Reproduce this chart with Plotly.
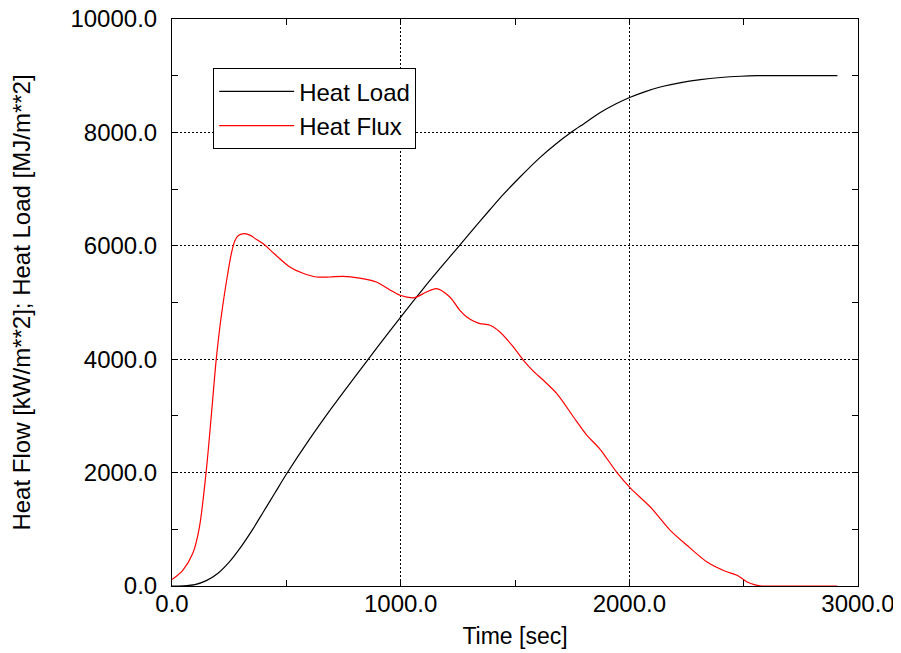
import plotly.graph_objects as go

# Heat load curve (black)
load_time = [0, 50, 100, 150, 200, 250, 300, 350, 400, 450, 500, 600, 700, 800,
             900, 1000, 1100, 1172, 1256, 1300, 1391, 1450, 1522, 1610, 1680,
             1749, 1800, 1873, 1940, 2004, 2070, 2135, 2220, 2311, 2400, 2486,
             2560, 2700, 2910]
load_vals = [0, 4, 25, 95, 220, 420, 680, 980, 1310, 1640, 1970, 2580, 3150, 3690,
             4220, 4744, 5250, 5600, 6000, 6210, 6640, 6910, 7213, 7560, 7800,
             8010, 8150, 8350, 8500, 8620, 8720, 8800, 8875, 8931, 8968, 8990,
             9000, 9000, 9000]

# Heat flux curve (red)
flux_time = [0, 47, 91, 120, 150, 175, 193, 215, 245, 260, 274, 290, 318, 345,
             370, 398, 450, 515, 570, 632, 690, 748, 820, 894, 950, 997, 1062,
             1110, 1157, 1215, 1259, 1289, 1320, 1347, 1391, 1434, 1490, 1537,
             1580, 1624, 1683, 1756, 1810, 1873, 1946, 2007, 2092, 2179, 2252,
             2340, 2420, 2471, 2515, 2550, 2580, 2700, 2910]
flux_vals = [113, 277, 577, 1040, 2040, 3150, 3980, 4744, 5538, 5870, 6080, 6180,
             6215, 6180, 6110, 6039, 5850, 5626, 5520, 5450, 5450, 5462, 5430,
             5362, 5230, 5127, 5086, 5180, 5245, 5097, 4861, 4744, 4670, 4628,
             4598, 4480, 4230, 3980, 3790, 3628, 3393, 2981, 2680, 2406, 2000,
             1718, 1393, 982, 718, 423, 260, 189, 71, 20, 0, 0, 0]

font = "Liberation Sans, Arial, sans-serif"

fig = go.Figure()
fig.add_trace(go.Scatter(x=load_time, y=load_vals, mode="lines", name="Heat Load",
                         line=dict(color="black", width=1.2, shape="spline", smoothing=0.8)))
fig.add_trace(go.Scatter(x=flux_time, y=flux_vals, mode="lines", name="Heat Flux",
                         line=dict(color="red", width=1.2, shape="spline", smoothing=0.8)))

axis_common = dict(
    showline=True, linecolor="black", linewidth=1, mirror="ticks",
    ticks="inside", ticklen=6, tickcolor="black", tickwidth=1,
    showgrid=True, gridcolor="black", gridwidth=1, griddash="2px,2px",
    zeroline=False, tickformat=".1f", automargin=False,
    ticklabeloverflow="allow",
    tickfont=dict(family=font, size=24, color="black"),
)

fig.update_xaxes(range=[0, 3000], dtick=1000,
                 minor=dict(dtick=500, ticks="inside", ticklen=6, tickcolor="black", showgrid=False),
                 title=dict(text="Time [sec]", font=dict(family=font, size=23, color="black"), standoff=12),
                 ticklabelstandoff=-4,
                 **axis_common)
fig.update_yaxes(range=[0, 10000], dtick=2000,
                 minor=dict(dtick=1000, ticks="inside", ticklen=6, tickcolor="black", showgrid=False),
                 title=dict(text="Heat Flow [kW/m**2]; Heat Load [MJ/m**2]",
                            font=dict(family=font, size=24, color="black"), standoff=46),
                 ticklabelstandoff=9,
                 **axis_common)

# the page puts the figure 8px in from the window corner, so size it to fit
fig.update_layout(
    width=893, height=645,
    margin=dict(l=164, r=43, t=11, b=67),
    paper_bgcolor="white", plot_bgcolor="white",
    font=dict(family=font, size=24, color="black"),
    legend=dict(x=0.06, y=0.913, xanchor="left", yanchor="top",
                bgcolor="white", bordercolor="black", borderwidth=1,
                font=dict(family=font, size=24, color="black"),
                itemwidth=75, tracegroupgap=0),
)

fig.write_html("out.html")
